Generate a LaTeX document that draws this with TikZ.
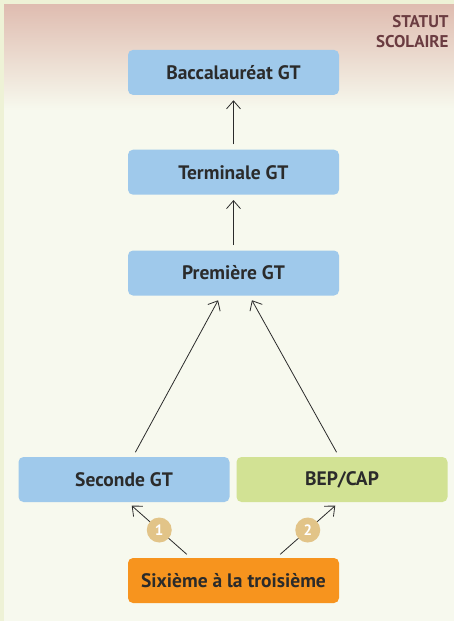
\documentclass[tikz,border=0pt]{standalone}
\usepackage{fontspec}
\setmainfont{PT Sans}
\usetikzlibrary{arrows, arrows.meta, positioning}

\definecolor{gtblue}{HTML}{9FC9EB}
\definecolor{bepgreen}{HTML}{D2E294}
\definecolor{sixorange}{HTML}{F7941E}
\definecolor{steptan}{HTML}{E2C488}
\definecolor{statutred}{HTML}{6B3C41}
\definecolor{pagebg}{HTML}{F7F9EE}
\definecolor{edgebg}{HTML}{EEF2D6}
\definecolor{toppink}{HTML}{DFBCB0}
\definecolor{inkgray}{HTML}{2B2B2B}

\begin{document}
\begin{tikzpicture}[
            x = 1pt, y = -1pt, % pixel-like units, y down
            > = {Straight Barb[length=8pt, width=14pt]}, % arrow head style
            shorten > = 5pt, % don't touch arrow head to node
            shorten < = 5pt,
            line width = 0.8pt, % line style
            draw = inkgray
        ]

        \tikzstyle{level}=[
            rectangle,
            rounded corners = 5pt,
            fill = gtblue,
            minimum width = 211pt,
            minimum height = 45pt,
            text = inkgray,
            font = \fontsize{19.5}{22}\selectfont\bfseries
        ]
        \tikzstyle{stepnum}=[
            circle,
            fill = steptan,
            minimum size = 25pt,
            inner sep = 0pt,
            text = white,
            font = \fontsize{15}{17}\selectfont\bfseries
        ]

        % background
        \fill[edgebg] (0,0) rectangle (454,621);
        \fill[pagebg] (4,4) rectangle (454,621);
        \shade[top color = toppink, bottom color = pagebg, draw = none] (4,4) rectangle (454,110);
        \useasboundingbox (0,0) rectangle (454,621);

        \node[anchor = north east, align = right, text = statutred, inner sep = 0pt,
              font = \fontsize{17}{20}\selectfont\bfseries] (statut) at (449,15) {STATUT\\SCOLAIRE};

	\node[level, fill = sixorange] (six) at (233.5,580.5) {Sixième à la troisième};
	\node[level] (sec) at (124,479.5) {Seconde GT};
	\node[level, fill = bepgreen] (bep) at (342,479.5) {BEP/CAP};
	\node[level] (prem) at (233.5,273) {Première GT};
	\node[level] (term) [above = 55pt of prem] {Terminale GT};
	\node[level] (bac) [above = 54pt of term] {Baccalauréat GT};

        \draw[->] ([xshift=-43pt]six.north) -- node[stepnum] {1} ([xshift=4pt]sec.south);
        \draw[->] ([xshift=43pt]six.north) -- node[stepnum] {2} ([xshift=-3pt]bep.south);
        \draw[->] ([xshift=9pt]sec.north) -- ([xshift=-13pt]prem.south);
        \draw[->] ([xshift=-3pt]bep.north) -- ([xshift=16pt]prem.south);
        \path[->] (prem) edge (term);
        \path[->] (term) edge (bac);

    \end{tikzpicture}
\end{document}
